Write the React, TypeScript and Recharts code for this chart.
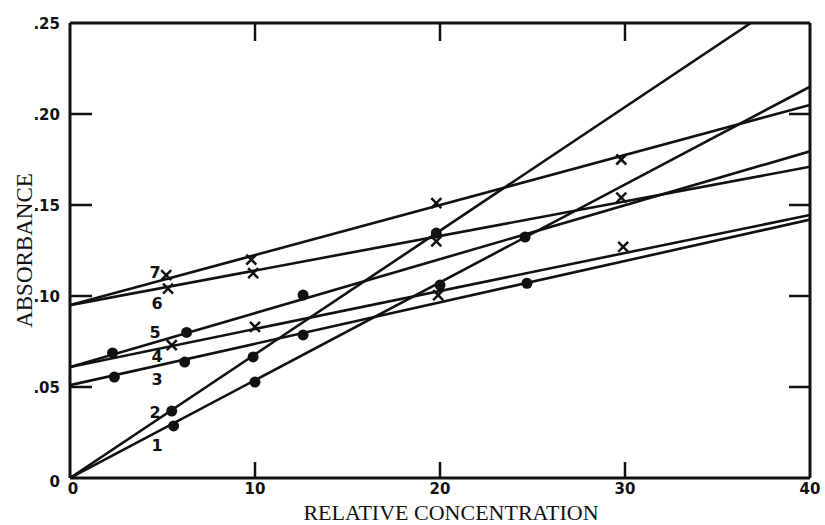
import React from 'react'
import { ComposedChart, Line, Scatter, XAxis, YAxis, Label } from 'recharts'

// hand-fitted calibration lines, numbered 1..7
const lineNames = ['1', '2', '3', '4', '5', '6', '7']
const lineStartX = [0, 0, 0, 0, 0, 0, 0]
const lineStartY = [0, 0, 0.051, 0.061, 0.061, 0.095, 0.095]
const lineEndX = [40, 36.8, 40, 40, 40, 40, 40]
const lineEndY = [0.215, 0.25, 0.142, 0.1445, 0.1795, 0.171, 0.205]

// measured points, filled circles (lines 1, 2, 3, 5)
const dotX = [5.6, 10, 20, 24.6, 5.5, 9.9, 19.8, 2.4, 6.2, 12.6, 24.7, 2.3, 6.3, 12.6]
const dotY = [0.0286, 0.0527, 0.106, 0.1324, 0.0368, 0.0665, 0.1346, 0.0555, 0.0637, 0.0786, 0.107, 0.0687, 0.08, 0.1005]

// measured points, crosses (lines 4, 6, 7)
const crossX = [5.5, 10, 19.9, 29.9, 5.3, 9.9, 19.8, 29.8, 5.2, 9.8, 19.8, 29.8]
const crossY = [0.073, 0.083, 0.1005, 0.127, 0.104, 0.1126, 0.13, 0.154, 0.1115, 0.12, 0.151, 0.175]

// where the line numbers sit
const tagX = [4.7, 4.6, 4.7, 4.7, 4.6, 4.7, 4.6]
const tagY = [0.018, 0.036, 0.054, 0.0665, 0.0797, 0.096, 0.113]

const xTicks = [0, 10, 20, 30, 40]
const yTicks = [0, 0.05, 0.1, 0.15, 0.2, 0.25]
const yTickText = ['0', '.05', '.10', '.15', '.20', '.25']

const lines = lineNames.map((name, i) => ({
  name,
  points: [
    { x: lineStartX[i], y: lineStartY[i] },
    { x: lineEndX[i], y: lineEndY[i] },
  ],
}))
const dots = dotX.map((x, i) => ({ x, y: dotY[i] }))
const crosses = crossX.map((x, i) => ({ x, y: crossY[i] }))
const tags = tagX.map((x, i) => ({ x, y: tagY[i], name: lineNames[i] }))

const tickFont = { fontFamily: 'DejaVu Sans', fontWeight: 'bold' as const, fontSize: 15, fill: '#111' }
const titleFont = { fontFamily: 'Liberation Serif', fontSize: 22, fill: '#111' }
const ink = '#111'

const renderLeftTick = (props: any) => {
  const x = Number(props.x)
  const y = Number(props.y)
  const v = Number(props.payload.value)
  const idx = yTicks.indexOf(v)
  const inner = v > 0 && v < 0.25
  return (
    <g key={`l${v}`}>
      {inner ? <path d={`M${x + 10},${y}H${x + 32}`} stroke={ink} strokeWidth={2.5} fill="none" /> : null}
      <text x={x} y={v === 0 ? y + 4 : y + 1} textAnchor="end" dominantBaseline="central" {...tickFont}>
        {yTickText[idx]}
      </text>
    </g>
  )
}

const renderRightTick = (props: any) => {
  const x = Number(props.x)
  const y = Number(props.y)
  const v = Number(props.payload.value)
  if (v <= 0 || v >= 0.25) return <g key={`r${v}`} />
  return <path key={`r${v}`} d={`M${x},${y}H${x - 21}`} stroke={ink} strokeWidth={2.5} fill="none" />
}

const renderBottomTick = (props: any) => {
  const x = Number(props.x)
  const y = Number(props.y)
  const v = Number(props.payload.value)
  const inner = v > 0 && v < 40
  return (
    <g key={`b${v}`}>
      {inner ? <path d={`M${x},${y - 11}V${y - 27}`} stroke={ink} strokeWidth={2.5} fill="none" /> : null}
      <text x={v === 0 ? x + 3 : x} y={y} textAnchor="middle" dominantBaseline="central" {...tickFont}>
        {v}
      </text>
    </g>
  )
}

const renderTopTick = (props: any) => {
  const x = Number(props.x)
  const y = Number(props.y)
  const v = Number(props.payload.value)
  if (v <= 0 || v >= 40) return <g key={`t${v}`} />
  return <path key={`t${v}`} d={`M${x},${y}V${y + 18}`} stroke={ink} strokeWidth={2.5} fill="none" />
}

const Dot = (props: any) => <circle cx={props.cx} cy={props.cy} r={5.5} fill={ink} />

const Cross = (props: any) => {
  const { cx, cy } = props
  const s = 5
  return (
    <path
      d={`M${cx - s},${cy - s}L${cx + s},${cy + s}M${cx + s},${cy - s}L${cx - s},${cy + s}`}
      stroke={ink}
      strokeWidth={2.5}
      fill="none"
    />
  )
}

const Tag = (props: any) => (
  <text x={props.cx} y={props.cy} textAnchor="middle" dominantBaseline="central" {...tickFont} fontSize={16}>
    {props.payload.name}
  </text>
)

const YTitle = (props: any) => {
  const { viewBox } = props
  const cx = viewBox.x + 24
  const cy = viewBox.y + viewBox.height / 2
  return (
    <text x={cx} y={cy} transform={`rotate(-90, ${cx}, ${cy})`} textAnchor="middle" dominantBaseline="central" {...titleFont} fontSize={23}>
      ABSORBANCE
    </text>
  )
}

const XTitle = (props: any) => {
  const { viewBox } = props
  return (
    <text x={viewBox.x + viewBox.width / 2 + 11} y={viewBox.y + 42} textAnchor="middle" {...titleFont}>
      RELATIVE CONCENTRATION
    </text>
  )
}

export default function App() {
  return (
    <div style={{ position: 'absolute', left: 0, top: 0, background: '#fff' }}>
      <ComposedChart width={825} height={525} margin={{ top: 22, right: 14, bottom: 0, left: 0 }}>
        <XAxis
          dataKey="x"
          type="number"
          domain={[0, 40]}
          ticks={xTicks}
          allowDataOverflow
          height={47}
          tickSize={0}
          tickMargin={11}
          tickLine={false}
          axisLine={{ stroke: ink, strokeWidth: 3 }}
          tick={renderBottomTick}
        >
          <Label content={<XTitle />} />
        </XAxis>
        <XAxis
          xAxisId="top"
          orientation="top"
          dataKey="x"
          type="number"
          domain={[0, 40]}
          ticks={xTicks}
          allowDataOverflow
          height={1}
          tickSize={0}
          tickMargin={0}
          tickLine={false}
          axisLine={{ stroke: ink, strokeWidth: 3 }}
          tick={renderTopTick}
        />
        <YAxis
          dataKey="y"
          type="number"
          domain={[0, 0.25]}
          ticks={yTicks}
          allowDataOverflow
          width={70}
          tickSize={0}
          tickMargin={10}
          tickLine={false}
          axisLine={{ stroke: ink, strokeWidth: 3 }}
          tick={renderLeftTick}
        >
          <Label content={<YTitle />} />
        </YAxis>
        <YAxis
          yAxisId="right"
          orientation="right"
          dataKey="y"
          type="number"
          domain={[0, 0.25]}
          ticks={yTicks}
          allowDataOverflow
          width={1}
          tickSize={0}
          tickMargin={0}
          tickLine={false}
          axisLine={{ stroke: ink, strokeWidth: 3 }}
          tick={renderRightTick}
        />
        {lines.map((l) => (
          <Line
            key={l.name}
            data={l.points}
            dataKey="y"
            type="linear"
            stroke={ink}
            strokeWidth={2.6}
            dot={false}
            activeDot={false}
            isAnimationActive={false}
          />
        ))}
        <Scatter data={dots} dataKey="y" shape={<Dot />} isAnimationActive={false} />
        <Scatter data={crosses} dataKey="y" shape={<Cross />} isAnimationActive={false} />
        <Scatter data={tags} dataKey="y" shape={<Tag />} isAnimationActive={false} />
      </ComposedChart>
    </div>
  )
}
